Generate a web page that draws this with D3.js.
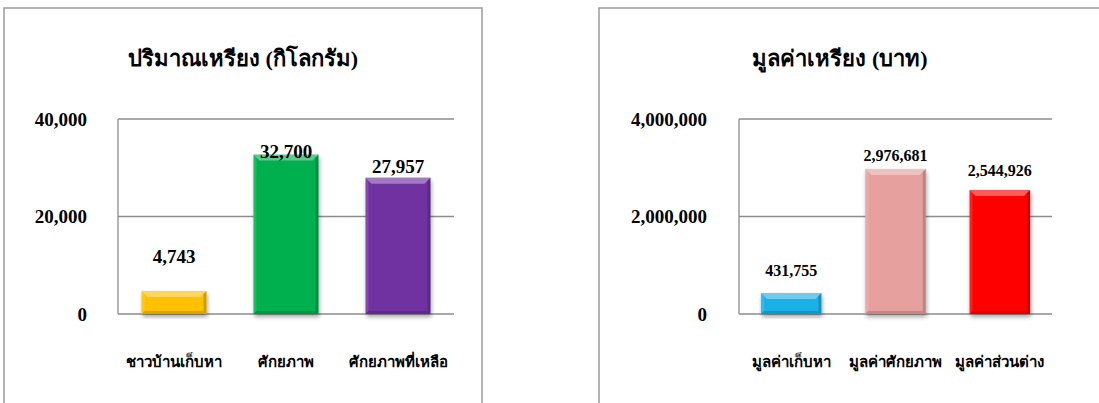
<!DOCTYPE html>
<html>
<head>
<meta charset="UTF-8">
<style>
    body { margin: 0; background: #fff; }
    text { font-family: "Liberation Serif", "DejaVu Serif", "Noto Sans", serif; font-weight: bold; fill: #000; }
</style>
</head>
<body>
<svg width="1099" height="403"></svg>
<script src="https://d3js.org/d3.v7.min.js"></script>
<script>

// chart 1 - amount (kg)
let qtyTitle = "ปริมาณเหรียง (กิโลกรัม)"
let qtyCategories = ["ชาวบ้านเก็บหา", "ศักยภาพ", "ศักยภาพที่เหลือ"]
let qtyValues = [4743, 32700, 27957]
let qtyTicks = [0, 20000, 40000]
let qtyColors = ["#FFC000", "#00B050", "#7030A0"]

// chart 2 - value (baht)
let valTitle = "มูลค่าเหรียง (บาท)"
let valCategories = ["มูลค่าเก็บหา", "มูลค่าศักยภาพ", "มูลค่าส่วนต่าง"]
let valValues = [431755, 2976681, 2544926]
let valTicks = [0, 2000000, 4000000]
let valColors = ["#1BB1E6", "#E6A19E", "#FF0000"]

let svg = d3.select("svg")

let defs = svg.append("defs")
let shadow = defs.append("filter").attr("id", "shadow")
    .attr("x", "-20%").attr("y", "-10%").attr("width", "140%").attr("height", "130%")
shadow.append("feGaussianBlur").attr("in", "SourceAlpha").attr("stdDeviation", 2)
shadow.append("feOffset").attr("dx", 1).attr("dy", 3).attr("result", "off")
shadow.append("feComponentTransfer").append("feFuncA").attr("type", "linear").attr("slope", 0.35)
let merge = shadow.append("feMerge")
merge.append("feMergeNode")
merge.append("feMergeNode").attr("in", "SourceGraphic")

function drawChart(opt) {
    let g = svg.append("g")

    // panel frame
    g.append("rect")
        .attr("x", opt.frame[0]).attr("y", opt.frame[1])
        .attr("width", opt.frame[2]).attr("height", opt.frame[3])
        .attr("fill", "none").attr("stroke", "#9a9a9a").attr("stroke-width", 1.5)

    g.append("text")
        .attr("x", opt.titleX).attr("y", 66)
        .attr("text-anchor", "middle")
        .style("font-size", "22px")
        .text(opt.title)

    let x = d3.scaleBand()
        .domain(opt.categories)
        .range([opt.left, opt.right])
        .paddingInner(0.42).paddingOuter(0.21)

    let y = d3.scaleLinear()
        .domain([0, d3.max(opt.ticks)])
        .range([314, 119])

    // gridlines
    g.append("g").selectAll("line")
        .data(opt.ticks)
        .enter().append("line")
        .attr("x1", opt.left).attr("x2", opt.right)
        .attr("y1", d => y(d)).attr("y2", d => y(d))
        .attr("stroke", "#8c8c8c").attr("stroke-width", 1.3)

    g.append("line")
        .attr("x1", opt.left).attr("x2", opt.left)
        .attr("y1", y(d3.max(opt.ticks))).attr("y2", y(0))
        .attr("stroke", "#8c8c8c").attr("stroke-width", 1.3)

    // y tick labels
    g.append("g").selectAll("text")
        .data(opt.ticks)
        .enter().append("text")
        .attr("x", opt.tickX).attr("y", d => y(d))
        .attr("dy", "0.35em")
        .attr("text-anchor", "end")
        .style("font-size", "19px")
        .text(d => d3.format(",")(d))

    let rows = opt.categories.map((c, i) => ({ cat: c, v: opt.values[i], color: opt.colors[i], gap: opt.labelGaps[i] }))

    let bars = g.append("g").selectAll("g")
        .data(rows)
        .enter().append("g")

    bars.append("rect")
        .attr("x", d => x(d.cat))
        .attr("y", d => y(d.v))
        .attr("width", x.bandwidth())
        .attr("height", d => y(0) - y(d.v))
        .attr("fill", d => d.color)
        .attr("filter", "url(#shadow)")

    // bevel: lighter top, darker sides and bottom
    let b = 6
    bars.append("path")
        .attr("d", d => {
            let x0 = x(d.cat), x1 = x0 + x.bandwidth(), y0 = y(d.v)
            return "M" + x0 + "," + y0 + "L" + x1 + "," + y0 + "L" + (x1 - b) + "," + (y0 + b) + "L" + (x0 + b) + "," + (y0 + b) + "Z"
        })
        .attr("fill", "#fff").attr("opacity", 0.35)
    bars.append("path")
        .attr("d", d => {
            let x0 = x(d.cat), x1 = x0 + x.bandwidth(), y0 = y(d.v), y1 = y(0)
            return "M" + x1 + "," + y0 + "L" + x1 + "," + y1 + "L" + (x1 - 3) + "," + (y1 - 3) + "L" + (x1 - 3) + "," + (y0 + 3) + "Z"
        })
        .attr("fill", "#000").attr("opacity", 0.18)
    bars.append("path")
        .attr("d", d => {
            let x0 = x(d.cat), x1 = x0 + x.bandwidth(), y1 = y(0)
            return "M" + x0 + "," + y1 + "L" + x1 + "," + y1 + "L" + (x1 - 3) + "," + (y1 - 3) + "L" + (x0 + 3) + "," + (y1 - 3) + "Z"
        })
        .attr("fill", "#000").attr("opacity", 0.15)
    bars.append("path")
        .attr("d", d => {
            let x0 = x(d.cat), y0 = y(d.v), y1 = y(0)
            return "M" + x0 + "," + y0 + "L" + (x0 + 3) + "," + (y0 + 3) + "L" + (x0 + 3) + "," + (y1 - 3) + "L" + x0 + "," + y1 + "Z"
        })
        .attr("fill", "#fff").attr("opacity", 0.12)

    // value labels
    bars.append("text")
        .attr("x", d => x(d.cat) + x.bandwidth() / 2)
        .attr("y", d => y(d.v) - d.gap)
        .attr("text-anchor", "middle")
        .style("font-size", opt.valueSize)
        .text(d => d3.format(",")(d.v))

    // category labels
    g.append("g").selectAll("text")
        .data(opt.categories)
        .enter().append("text")
        .attr("x", d => x(d) + x.bandwidth() / 2)
        .attr("y", 367)
        .attr("text-anchor", "middle")
        .style("font-size", opt.catSize)
        .text(d => d)
}

drawChart({
    title: qtyTitle, categories: qtyCategories, values: qtyValues, ticks: qtyTicks, colors: qtyColors,
    frame: [4, 8, 478, 420], titleX: 243, left: 118, right: 454, tickX: 87,
    labelGaps: [28, -3, 5], valueSize: "19px", catSize: "15px"
})

drawChart({
    title: valTitle, categories: valCategories, values: valValues, ticks: valTicks, colors: valColors,
    frame: [599, 8, 520, 420], titleX: 840, left: 739, right: 1052, tickX: 707,
    labelGaps: [17, 8, 14], valueSize: "16px", catSize: "15px"
})
</script>
</body>
</html>
